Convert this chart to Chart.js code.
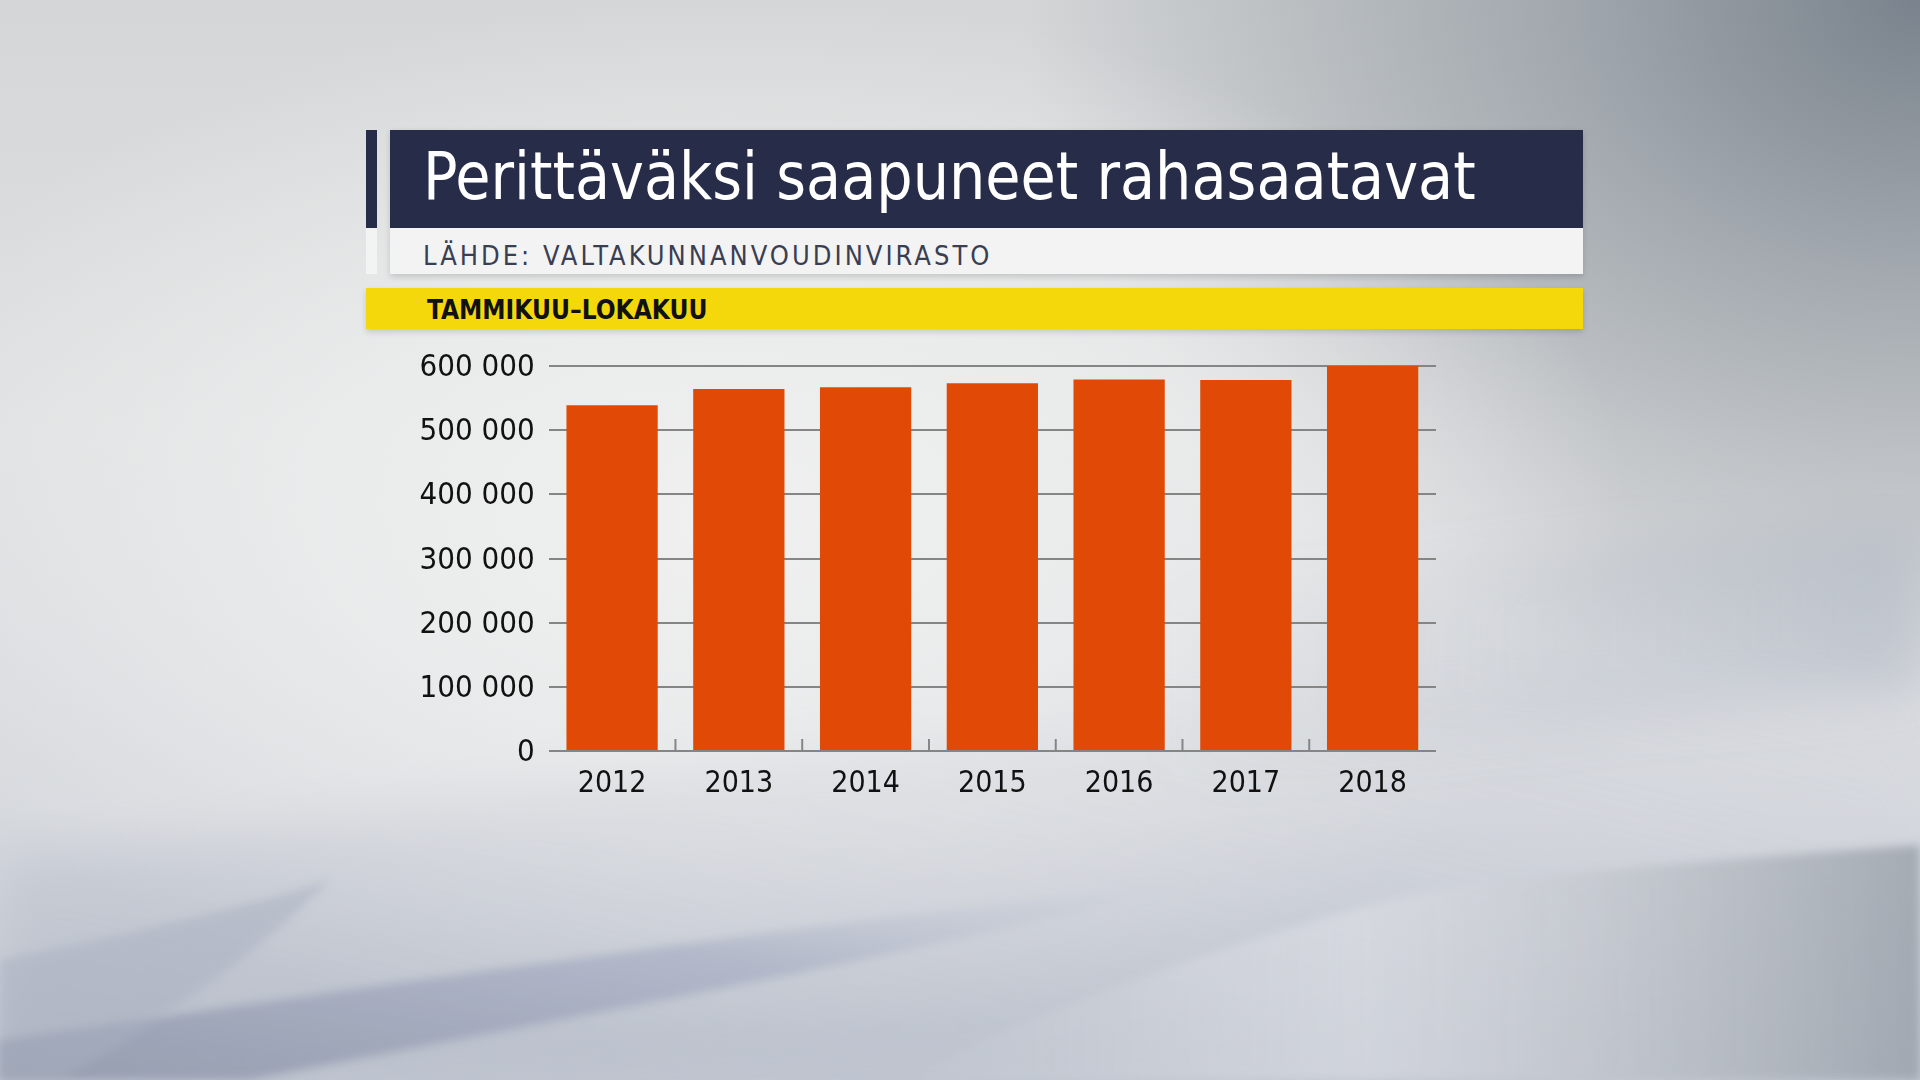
<!DOCTYPE html>
<html>
<head>
<meta charset="utf-8">
<script src="https://cdn.jsdelivr.net/npm/chart.js@4.4.0/dist/chart.umd.min.js"></script>
<style>
    html, body { margin: 0; padding: 0; }
    body {
        width: 1920px; height: 1080px; overflow: hidden; position: relative;
        background-color: #dcdedf;
        background-image:
            radial-gradient(ellipse 900px 520px at 38% 48%, rgba(240,240,240,1) 0%, rgba(236,237,237,0.85) 45%, rgba(230,231,232,0) 100%),
            radial-gradient(ellipse 900px 700px at 100% 0%, rgba(122,131,141,1) 0%, rgba(140,148,156,0.7) 40%, rgba(180,186,190,0) 100%),
            linear-gradient(180deg, #d4d6d7 0%, #dfe0e1 40%, #d6d9de 75%, #c3c8d2 100%);
    }
    #bg { position: absolute; left: 0; top: 0; }
    .box { position: absolute; }
    #strip1 { left: 366px; top: 130px; width: 11px; height: 98px; background: #272c49; }
    #strip2 { left: 366px; top: 228px; width: 11px; height: 46px; background: #f3f3f3; }
    #titleBox { left: 390px; top: 130px; width: 1193px; height: 98px; background: #272c49; box-shadow: 0 2px 6px rgba(0,0,0,0.15); }
    #sourceBox { left: 390px; top: 228px; width: 1193px; height: 46px; background: #f3f3f3; box-shadow: 0 3px 6px rgba(0,0,0,0.15); }
    #periodBox { left: 366px; top: 288px; width: 1217px; height: 41px; background: #f5d80b; box-shadow: 0 3px 6px rgba(0,0,0,0.15); }
    .txt { position: absolute; white-space: nowrap; line-height: 1; font-family: "Liberation Sans Narrow", "DejaVu Sans Condensed", "Liberation Sans", sans-serif; transform-origin: left top; }
    #title { left: 423px; top: 144px; font-size: 66px; color: #ffffff; transform: scaleX(0.965); }
    #source { left: 423px; top: 242px; font-size: 27px; color: #3a3e52; letter-spacing: 3px; }
    #period { left: 427px; top: 297px; font-size: 26px; font-weight: bold; color: #111111; }
    #chartWrap { position: absolute; left: 0; top: 0; width: 1920px; height: 1080px; }
</style>
</head>
<body>
<svg id="bg" width="1920" height="1080">
    <defs>
        <filter id="soft" x="-10%" y="-10%" width="120%" height="120%">
            <feGaussianBlur stdDeviation="5"/>
        </filter>
        <filter id="softer" x="-10%" y="-10%" width="120%" height="120%">
            <feGaussianBlur stdDeviation="25"/>
        </filter>
        <linearGradient id="sw1" x1="0" y1="1" x2="1" y2="0">
            <stop offset="0" stop-color="#8f97aa" stop-opacity="0.85"/>
            <stop offset="0.6" stop-color="#a3aac1" stop-opacity="0.6"/>
            <stop offset="1" stop-color="#c5cad8" stop-opacity="0"/>
        </linearGradient>
        <linearGradient id="sw2" x1="0" y1="1" x2="1" y2="0">
            <stop offset="0" stop-color="#a0a7b8" stop-opacity="0.8"/>
            <stop offset="1" stop-color="#c8ccd8" stop-opacity="0"/>
        </linearGradient>
        <linearGradient id="sw3" x1="0" y1="0" x2="1" y2="0">
            <stop offset="0" stop-color="#e2e4e8" stop-opacity="0"/>
            <stop offset="0.45" stop-color="#e2e4e8" stop-opacity="0.6"/>
            <stop offset="1" stop-color="#949ba4" stop-opacity="0.9"/>
        </linearGradient>
        <linearGradient id="band" x1="0" y1="0" x2="1" y2="0">
            <stop offset="0" stop-color="#b4bcc8" stop-opacity="0"/>
            <stop offset="1" stop-color="#a9b2bf" stop-opacity="0.6"/>
        </linearGradient>
    </defs>
    <path d="M0 860 C 300 830, 700 760, 1200 700 C 1500 670, 1750 660, 1920 640 L1920 1080 L0 1080 Z" fill="url(#sw2)" opacity="0.45" filter="url(#softer)"/>
    <path d="M0 1040 C 350 990, 750 930, 1210 880 C 900 960, 500 1030, 250 1080 L0 1080 Z" fill="url(#sw1)" filter="url(#soft)"/>
    <path d="M0 960 C 150 930, 250 905, 330 880 C 250 960, 150 1030, 60 1080 L0 1080 Z" fill="#a9b0c0" opacity="0.5" filter="url(#soft)"/>
    <path d="M900 1080 C 1100 980, 1350 900, 1500 880 C 1700 860, 1850 850, 1920 845 L1920 1080 Z" fill="url(#sw3)" opacity="0.8" filter="url(#soft)"/>
    <path d="M1150 600 C 1450 560, 1750 530, 1920 520 L1920 690 C 1750 700, 1450 740, 1150 790 Z" fill="url(#band)" opacity="0.7" filter="url(#softer)"/>
</svg>

<div class="box" id="strip1"></div>
<div class="box" id="strip2"></div>
<div class="box" id="titleBox"></div>
<div class="box" id="sourceBox"></div>
<div class="box" id="periodBox"></div>
<div class="txt" id="title">Perittäväksi saapuneet rahasaatavat</div>
<div class="txt" id="source">LÄHDE: VALTAKUNNANVOUDINVIRASTO</div>
<div class="txt" id="period">TAMMIKUU–LOKAKUU</div>

<div id="chartWrap"><canvas id="barChart" width="1920" height="1080"></canvas></div>

<script>
//vuodet ja arvot
var years = ["2012", "2013", "2014", "2015", "2016", "2017", "2018"];
var amounts = [539000, 564000, 567000, 573000, 579000, 578000, 602000];
var yTicks = [0, 100000, 200000, 300000, 400000, 500000, 600000];

var fontFamily = "'Liberation Sans Narrow', 'DejaVu Sans Condensed', 'Liberation Sans', sans-serif";
var gridColor = "#858585";

//luku muotoon "600 000"
function formatNumber(v) {
    return String(v).replace(/\B(?=(\d{3})+(?!\d))/g, " ");
}

//pienet väliviivat pylväiden väliin
var categoryTicks = {
    id: "categoryTicks",
    afterDatasetsDraw: function (chart) {
        var x = chart.scales.x;
        var y = chart.scales.y;
        var ctx = chart.ctx;
        var base = y.getPixelForValue(0);
        ctx.save();
        ctx.strokeStyle = gridColor;
        ctx.lineWidth = 2;
        for (var i = 1; i < years.length; i++) {
            var px = (x.getPixelForValue(i - 1) + x.getPixelForValue(i)) / 2;
            ctx.beginPath();
            ctx.moveTo(px, base);
            ctx.lineTo(px, base - 12);
            ctx.stroke();
        }
        ctx.restore();
    }
};

function initChart() {
    var ctx = document.getElementById("barChart").getContext("2d");
    new Chart(ctx, {
        type: "bar",
        data: {
            labels: years,
            datasets: [
                {
                    label: "Perittäväksi saapuneet rahasaatavat",
                    data: amounts,
                    backgroundColor: "#e04a06",
                    borderWidth: 0,
                    barPercentage: 0.72,
                    categoryPercentage: 1.0
                }
            ]
        },
        options: {
            responsive: false,
            animation: false,
            devicePixelRatio: 1,
            layout: {
                padding: { left: 400, right: 484, top: 366, bottom: 269 }
            },
            plugins: {
                legend: { display: false },
                tooltip: { enabled: false },
                title: { display: false }
            },
            scales: {
                x: {
                    grid: { display: false, drawTicks: false },
                    border: { display: false },
                    ticks: {
                        color: "#111111",
                        padding: 15,
                        font: { family: fontFamily, size: 30 }
                    },
                    afterFit: function (scale) { scale.height = 60; }
                },
                y: {
                    min: 0,
                    max: 600000,
                    afterBuildTicks: function (scale) {
                        scale.ticks = yTicks.map(function (v) { return { value: v }; });
                    },
                    grid: { color: gridColor, lineWidth: 2, drawTicks: false },
                    border: { display: false },
                    ticks: {
                        color: "#111111",
                        padding: 14,
                        labelOffset: 2,
                        font: { family: fontFamily, size: 31 },
                        callback: function (v) { return formatNumber(v); }
                    },
                    afterFit: function (scale) { scale.width = 148.7; }
                }
            }
        },
        plugins: [categoryTicks]
    });
}

initChart();
</script>
</body>
</html>
